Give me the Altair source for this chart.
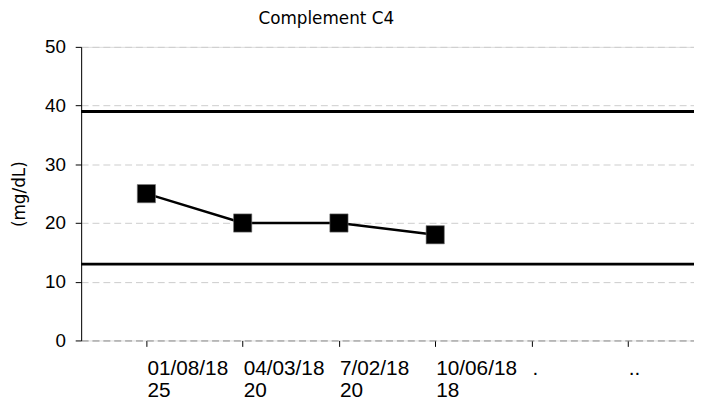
import altair as alt
import pandas as pd

dates = ["01/08/18", "04/03/18", "7/02/18", "10/06/18", ".", ".."]
values = [25, 20, 20, 18]
value_labels = ["25", "20", "20", "18", "", ""]
ref_levels = [39, 13]
positions = [1, 2, 3, 4, 5, 6]

pts = pd.DataFrame({"pos": positions[:4], "value": values})
lab = pd.DataFrame({"pos": positions,
                    "label": [d + "\n" + v for d, v in zip(dates, value_labels)]})
refs = pd.DataFrame({"level": ref_levels})

W, H = 620, 297
xscale = alt.Scale(domain=[0.322, 6.688], nice=False, zero=False)
yscale = alt.Scale(domain=[0, 50], nice=False)

xaxis = alt.Axis(values=positions, labels=False, title=None, grid=False,
                 tickColor="black", tickSize=6, tickWidth=1,
                 domainColor="#999999", domainDash=[7, 4], domainWidth=1)
yaxis = alt.Axis(values=[0, 10, 20, 30, 40, 50], title="(mg/dL)",
                 grid=True, gridColor="#cccccc", gridDash=[7, 4], gridWidth=1,
                 domainColor="black", tickColor="black", tickSize=6,
                 labelFont="Liberation Sans", labelFontSize=19, labelColor="black",
                 labelPadding=10, titleFont="DejaVu Sans", titleFontSize=17,
                 titleFontWeight="normal", titleColor="black", titlePadding=16)

base = alt.Chart(pts)

rules = alt.Chart(refs).mark_rule(color="black", strokeWidth=3).encode(
    y=alt.Y("level:Q", scale=yscale, axis=yaxis)
)
line = base.mark_line(color="black", strokeWidth=2.5).encode(
    x=alt.X("pos:Q", scale=xscale, axis=xaxis),
    y=alt.Y("value:Q", scale=yscale),
)
points = base.mark_point(shape="square", size=340, filled=True, fill="black",
                         stroke="#777777", strokeWidth=0.6, opacity=1).encode(
    x=alt.X("pos:Q", scale=xscale),
    y=alt.Y("value:Q", scale=yscale),
)
labels = alt.Chart(lab).mark_text(align="left", baseline="top", font="Liberation Sans",
                                  fontSize=21, lineHeight=22, lineBreak="\n",
                                  color="black", dx=1).encode(
    x=alt.X("pos:Q", scale=xscale),
    y=alt.value(H + 18),
    text="label:N",
)

chart = alt.layer(rules, line, points, labels).properties(
    width=W, height=H,
    title=alt.TitleParams("Complement C4", font="DejaVu Sans", fontSize=17,
                          fontWeight="normal", color="black", anchor="middle",
                          dx=-62, offset=10),
    autosize=alt.AutoSizeParams(type="none"),
    padding={"left": 74, "top": 37, "right": 0, "bottom": 64},
).configure_view(stroke=None).configure(background="white")

chart.save("out.html", embed_options={"renderer": "svg", "actions": False})
